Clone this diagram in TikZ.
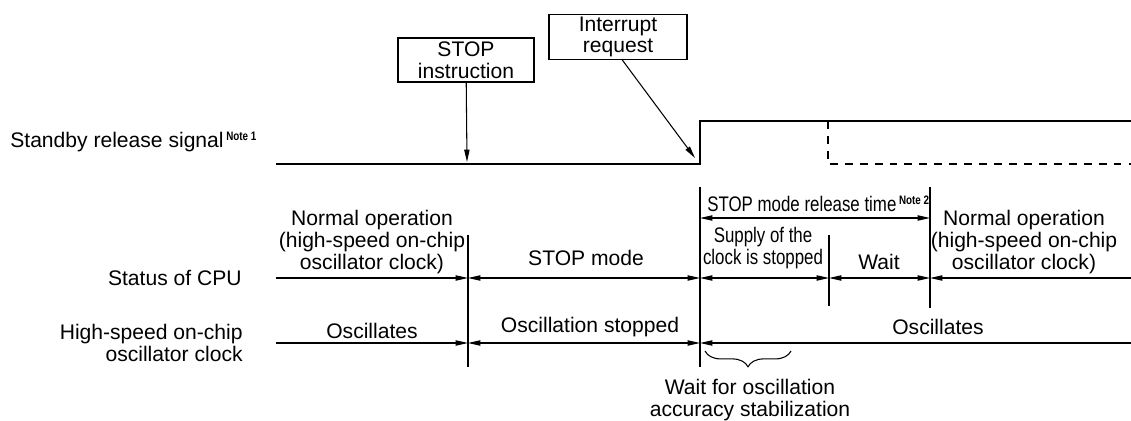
\documentclass[tikz,border=0pt]{standalone}
\usepackage{fontspec}
\setmainfont{Liberation Sans}
\newfontfamily\narrowfont[FakeStretch=0.8]{Liberation Sans}
\usetikzlibrary{arrows.meta,decorations.pathreplacing}

\newcommand{\notesup}[1]{\kern1.5pt\raisebox{4pt}{\narrowfont\bfseries\fontsize{7}{7}\selectfont Note #1}}

\begin{document}
\begin{tikzpicture}[
        x=0.02cm, y=-0.02cm,
        font=\fontsize{12}{12.4}\selectfont,
        >={Triangle[length=7pt,width=3pt]},
        sigline/.style={line width=1.5pt},
        sigdash/.style={sigline, dash pattern=on 4.5pt off 4pt},
        divline/.style={line width=0.6pt},
        spanline/.style={line width=0.6pt},
        callbox/.style={draw, line width=0.6pt, align=center, inner sep=1pt},
        rowtext/.style={align=center, inner sep=0pt},
        sidetext/.style={anchor=east, align=right, inner sep=0pt},
    ]
  \useasboundingbox (0,0) rectangle (1131,421);

  % standby release signal
  \node[anchor=base west, inner sep=0pt] (sbylabel) at (10,148) {Standby release signal\notesup{1}};
  \coordinate (sigstart) at (276,164);
  \coordinate (sigrise) at (700,164);
  \coordinate (sighigh) at (700,121);
  \coordinate (sigend) at (1131,121);
  \coordinate (dashtop) at (828,121);
  \coordinate (dashlow) at (828,164);
  \coordinate (dashend) at (1131,164);
  \draw[sigline] (sigstart) -- (sigrise) -- (sighigh) -- (sigend);
  \draw[sigdash] (dashtop) -- (dashlow) -- (dashend);

  % callouts
  \node[callbox, minimum width=2.72cm, minimum height=0.88cm] (stopins) at (466,60) {STOP\\instruction};
  \node[callbox, minimum width=2.76cm, minimum height=0.84cm] (intreq) at (618,37) {Interrupt\\request};
  \coordinate (stoppt) at (467,162);
  \coordinate (irqpt) at (695,158);
  \draw[->, line width=0.6pt] (stopins) -- (stoppt);
  \draw[->, line width=0.6pt] ([xshift=0.08cm]intreq.south) -- (irqpt);

  % row labels
  \node[sidetext] (cpulabel) at (242,278) {Status of CPU};
  \node[sidetext] (osclabel) at (243,343) {High-speed on-chip\\oscillator clock};

  % dividers
  \draw[divline] (468,235) -- (468,367);
  \draw[divline] (700,187) -- (700,367);
  \draw[divline] (829,235) -- (829,306);
  \draw[divline] (930,187) -- (930,308);

  % status of CPU
  \coordinate (cpu0) at (276,278);
  \coordinate (cpu1) at (468,278);
  \coordinate (cpu2) at (700,278);
  \coordinate (cpu3) at (829,278);
  \coordinate (cpu4) at (930,278);
  \coordinate (cpu5) at (1131,278);
  \draw[spanline, ->] (cpu0) -- (cpu1);
  \draw[spanline, <->] (cpu1) -- (cpu2);
  \draw[spanline, <->] (cpu2) -- (cpu3);
  \draw[spanline, <->] (cpu3) -- (cpu4);
  \draw[spanline, <-] (cpu4) -- (cpu5);
  \node[rowtext] (normal1) at (372,242) {Normal operation\\(high-speed on-chip\\oscillator clock)};
  \node[rowtext] (stopmode) at (586,258) {STOP mode};
  \node[rowtext, font=\narrowfont\fontsize{12}{12.4}\selectfont] (supply) at (763,248) {Supply of the\\clock is stopped};
  \node[rowtext] (wait) at (879,262) {Wait};
  \node[rowtext] (normal2) at (1024,242) {Normal operation\\(high-speed on-chip\\oscillator clock)};

  % STOP mode release time
  \coordinate (rel0) at (700,218);
  \coordinate (rel1) at (930,218);
  \draw[spanline, <->] (rel0) -- (rel1);
  \node[anchor=base west, inner sep=0pt, font=\narrowfont\fontsize{12}{12.4}\selectfont] (reltime) at (707,212) {STOP mode release time\notesup{2}};

  % oscillator clock
  \coordinate (osc0) at (276,343);
  \coordinate (osc1) at (468,343);
  \coordinate (osc2) at (700,343);
  \coordinate (osc5) at (1131,343);
  \draw[spanline, ->] (osc0) -- (osc1);
  \draw[spanline, <->] (osc1) -- (osc2);
  \draw[spanline, <-] (osc2) -- (osc5);
  \node[rowtext] (oscl) at (372,331) {Oscillates};
  \node[rowtext] (oscstop) at (590,327) {Oscillation stopped};
  \node[rowtext] (oscr) at (938,327) {Oscillates};

  % stabilization wait
  \draw[line width=0.6pt, decorate, decoration={brace, mirror, amplitude=9pt}] (705,351) -- (791,351);
  \node[rowtext] (stabwait) at (750,400) {Wait for oscillation\\accuracy stabilization};
\end{tikzpicture}
\end{document}
